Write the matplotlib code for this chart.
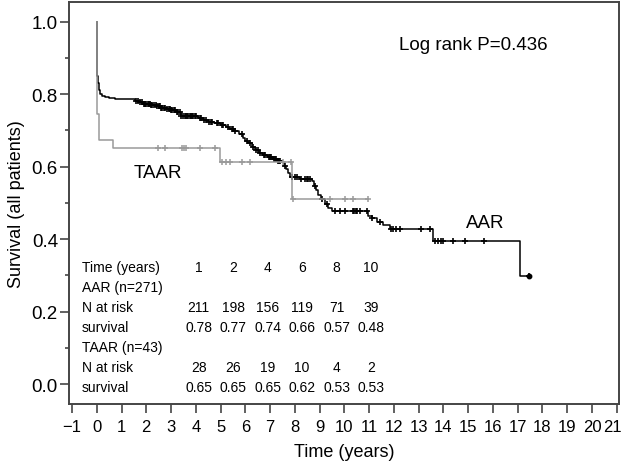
import numpy as np
import matplotlib
matplotlib.use("Agg")
import matplotlib.pyplot as plt
import matplotlib.transforms as mtransforms

plt.rcParams['font.family'] = ['Liberation Sans', 'DejaVu Sans']

# Kaplan-Meier steps
aar_t = [0, 0.01, 0.02, 0.03, 0.05, 0.08, 0.12, 0.2, 0.35, 0.5, 0.72,
         1.55, 1.7, 1.85, 2.0, 2.2, 2.4, 2.6, 2.8, 3.0, 3.2, 3.4,
         4.1, 4.3, 4.5, 4.75, 5.0, 5.2, 5.35, 5.55, 5.75, 5.9, 6.0, 6.1,
         6.25, 6.4, 6.55, 6.7, 6.9, 7.1, 7.3, 7.45, 7.55, 7.65, 7.72, 7.8,
         8.2, 8.7, 8.78, 8.85, 8.92, 9.05, 9.2, 9.35, 9.5,
         10.94, 11.1, 11.3, 11.55, 11.85, 13.56, 17.08]
aar_s = [1.0, 0.93, 0.88, 0.85, 0.83, 0.81, 0.80, 0.795, 0.792, 0.789, 0.786,
         0.782, 0.778, 0.774, 0.772, 0.769, 0.766, 0.763, 0.759, 0.755, 0.75, 0.74,
         0.735, 0.728, 0.724, 0.72, 0.716, 0.71, 0.703, 0.697, 0.69, 0.68, 0.67, 0.664,
         0.655, 0.645, 0.638, 0.632, 0.627, 0.622, 0.616, 0.612, 0.603, 0.593, 0.583, 0.571,
         0.565, 0.56, 0.546, 0.535, 0.522, 0.51, 0.497, 0.487, 0.477,
         0.463, 0.458, 0.446, 0.44, 0.428, 0.395, 0.298]
aar_end = 17.44
aar_cens = [1.6, 1.68, 1.75, 1.82, 1.9, 1.95, 2.0, 2.05, 2.1, 2.15, 2.2, 2.25, 2.3,
            2.38, 2.45, 2.5, 2.55, 2.6, 2.65, 2.7, 2.75, 2.82, 2.9, 2.95, 3.0, 3.05,
            3.1, 3.18, 3.25, 3.3, 3.35, 3.42, 3.5, 3.55, 3.6, 3.65, 3.7, 3.75, 3.8,
            3.85, 3.9, 3.95, 4.0, 4.15, 4.2, 4.35, 4.4, 4.55, 4.6, 4.65, 4.85, 4.9,
            5.05, 5.1, 5.3, 5.45, 5.5, 5.6, 5.85, 6.05, 6.2, 6.3, 6.45, 6.5, 6.6,
            6.75, 6.8, 6.95, 7.0, 7.05, 7.15, 7.2, 7.25, 7.3, 7.35, 7.4, 7.6, 7.9,
            8.0, 8.1, 8.25, 8.4, 8.5, 8.55, 8.6, 8.8, 9.1, 9.3, 9.61, 9.81, 10.01,
            10.33, 10.4, 10.45, 10.5, 10.62, 10.9, 11.1, 11.43, 11.9, 11.98, 12.1,
            12.23, 13.1, 13.44, 13.65, 13.78, 13.9, 14.0, 14.4, 14.86, 15.62, 17.44]

taar_t = [0, 0.02, 0.08, 0.65, 4.97, 7.87]
taar_s = [1.0, 0.745, 0.674, 0.651, 0.612, 0.51]
taar_end = 10.94
taar_cens = [2.46, 2.74, 3.43, 3.51, 3.6, 4.16, 4.76,
             5.05, 5.21, 5.37, 5.88, 6.18, 7.51, 7.85,
             7.91, 9.41, 10.01, 10.34, 10.94]

# number at risk table
table_years = [1, 2, 4, 6, 8, 10]
aar_risk = [211, 198, 156, 119, 71, 39]
aar_surv = ['0.78', '0.77', '0.74', '0.66', '0.57', '0.48']
taar_risk = [28, 26, 19, 10, 4, 2]
taar_surv = ['0.65', '0.65', '0.65', '0.62', '0.53', '0.53']


def step_value(times, surv, t):
    idx = np.searchsorted(times, t, side='right') - 1
    return np.asarray(surv)[idx]


fig = plt.figure(figsize=(6.24, 4.64), dpi=100)
ax = fig.add_axes([0.1106, 0.127, 0.881, 0.8665])

frame = '#454545'

# curves
ax.plot(list(aar_t) + [aar_end], list(aar_s) + [aar_s[-1]], drawstyle='steps-post',
        color='black', lw=1.1)
ax.plot(aar_cens, step_value(aar_t, aar_s, aar_cens), '+', color='black', ms=4.5, mew=1.2)
ax.plot([aar_end], [aar_s[-1]], 'o', color='black', ms=3.2)

ax.plot(list(taar_t) + [taar_end], list(taar_s) + [taar_s[-1]], drawstyle='steps-post',
        color='#9a9a9a', lw=1.1)
ax.plot(taar_cens, step_value(taar_t, taar_s, taar_cens), '+', color='#9a9a9a', ms=4.5, mew=1.1)

ax.set_xlim(-1.12, 21.08)
ax.set_ylim(-0.055, 1.054)
ax.set_xticks(range(-1, 22))
ax.set_yticks([0.0, 0.2, 0.4, 0.6, 0.8, 1.0])
ax.set_yticks(np.arange(0.1, 1.0, 0.2), minor=True)
ax.tick_params(axis='both', which='major', direction='out', length=6.5, width=1.2,
               color=frame)
ax.tick_params(axis='x', which='major', labelsize=12, pad=4)
ax.tick_params(axis='y', which='major', labelsize=13.5, pad=1.5)
ax.tick_params(axis='y', which='minor', direction='out', length=3, width=1.2, color=frame)
for sp in ax.spines.values():
    sp.set_color(frame)
    sp.set_linewidth(1.4)

# the last x label sits a little left of its tick, as in the original
fig.canvas.draw()
last = ax.get_xticklabels()[-1]
last.set_transform(last.get_transform() + mtransforms.ScaledTranslation(-4 / 100, 0, fig.dpi_scale_trans))

ax.set_xlabel('Time (years)', fontsize=13, labelpad=7)
ax.set_ylabel('Survival (all patients)', fontsize=13, labelpad=5)

ax.text(12.22, 0.938, 'Log rank P=0.436', fontsize=13.5, va='center', ha='left')
ax.text(2.46, 0.585, 'TAAR', fontsize=13.5, va='center', ha='center')
ax.text(15.67, 0.447, 'AAR', fontsize=13.5, va='center', ha='center')

# risk table in axes coordinates
row_labels = ['Time (years)', 'AAR (n=271)', 'N at risk', 'survival',
              'TAAR (n=43)', 'N at risk', 'survival']
row_values = [[str(y) for y in table_years], None, [str(v) for v in aar_risk], aar_surv,
              None, [str(v) for v in taar_risk], taar_surv]
x_lab = 0.0236
x_col0 = 0.236
dx_col = 0.0627
y_row0 = 0.341
dy_row = 0.0498
for i, (lab, vals) in enumerate(zip(row_labels, row_values)):
    yy = y_row0 - i * dy_row
    ax.text(x_lab, yy, lab, transform=ax.transAxes, fontsize=10, va='center', ha='left')
    if vals is not None:
        for j, v in enumerate(vals):
            ax.text(x_col0 + j * dx_col, yy, v, transform=ax.transAxes, fontsize=10,
                    va='center', ha='center')

fig.savefig('out.png', dpi=100)
